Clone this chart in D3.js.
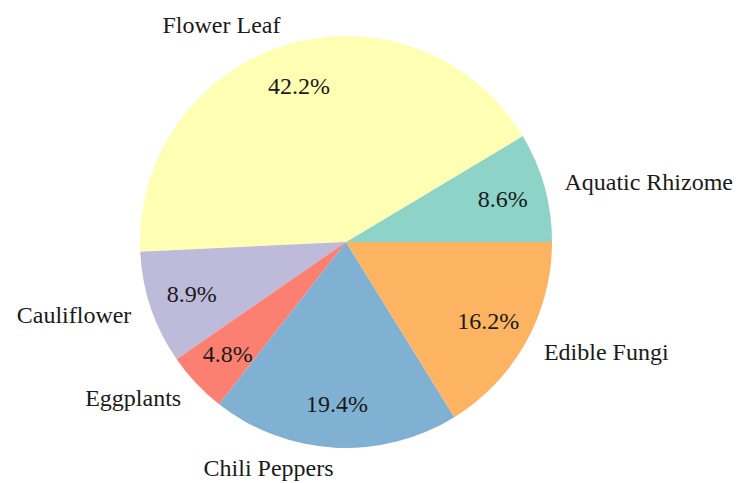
<!DOCTYPE html>
<html>
<head>
<meta charset="utf-8">
<script src="https://cdn.jsdelivr.net/npm/d3@7/dist/d3.min.js"></script>
</head>
<body style="margin:0">
<svg id="chart" width="744" height="483"></svg>
<script>
// Vegetable categories and their shares (%)
const categories = ["Aquatic Rhizome", "Flower Leaf", "Cauliflower", "Eggplants", "Chili Peppers", "Edible Fungi"];
const shares = [8.6, 42.2, 8.9, 4.8, 19.4, 16.2];
const palette = ["#8dd3c7", "#ffffb3", "#bebada", "#fb8072", "#80b1d3", "#fdb462"];

const svg = d3.select("#chart");
const cx = 346, cy = 242, radius = 206;

const data = categories.map((name, i) => ({ name, value: shares[i] }));

const color = d3.scaleOrdinal().domain(categories).range(palette);

// Start at 3 o'clock and run counter-clockwise
const pie = d3.pie()
  .value(d => d.value)
  .sort(null)
  .startAngle(Math.PI / 2)
  .endAngle(Math.PI / 2 - 2 * Math.PI);

const arcs = pie(data);

const arc = d3.arc().innerRadius(0).outerRadius(radius);
const labelArc = d3.arc().innerRadius(radius * 1.1).outerRadius(radius * 1.1);
const pctArc = d3.arc().innerRadius(radius * 0.79).outerRadius(radius * 0.79);

svg.append("g")
  .attr("transform", `translate(${cx},${cy})`)
  .selectAll("path")
  .data(arcs)
  .join("path")
  .attr("d", arc)
  .attr("fill", d => color(d.data.name));

// Category labels outside the pie
svg.selectAll("text.label")
  .data(arcs)
  .join("text")
  .attr("class", "label")
  .attr("x", d => cx + labelArc.centroid(d)[0])
  .attr("y", d => cy + labelArc.centroid(d)[1] + 8)
  .attr("text-anchor", d => labelArc.centroid(d)[0] >= 0 ? "start" : "end")
  .attr("font-size", 24)
  .attr("fill", "#1a1a1a")
  .style("font-family", '"Times New Roman"')
  .text(d => d.data.name);

// Percentage labels inside the slices
svg.selectAll("text.pct")
  .data(arcs)
  .join("text")
  .attr("class", "pct")
  .attr("x", d => cx + pctArc.centroid(d)[0])
  .attr("y", d => cy + pctArc.centroid(d)[1] + 8)
  .attr("text-anchor", "middle")
  .attr("font-size", 24)
  .attr("fill", "#1a1a1a")
  .style("font-family", '"Times New Roman"')
  .text(d => d.data.value.toFixed(1) + "%");
</script>
</body>
</html>
